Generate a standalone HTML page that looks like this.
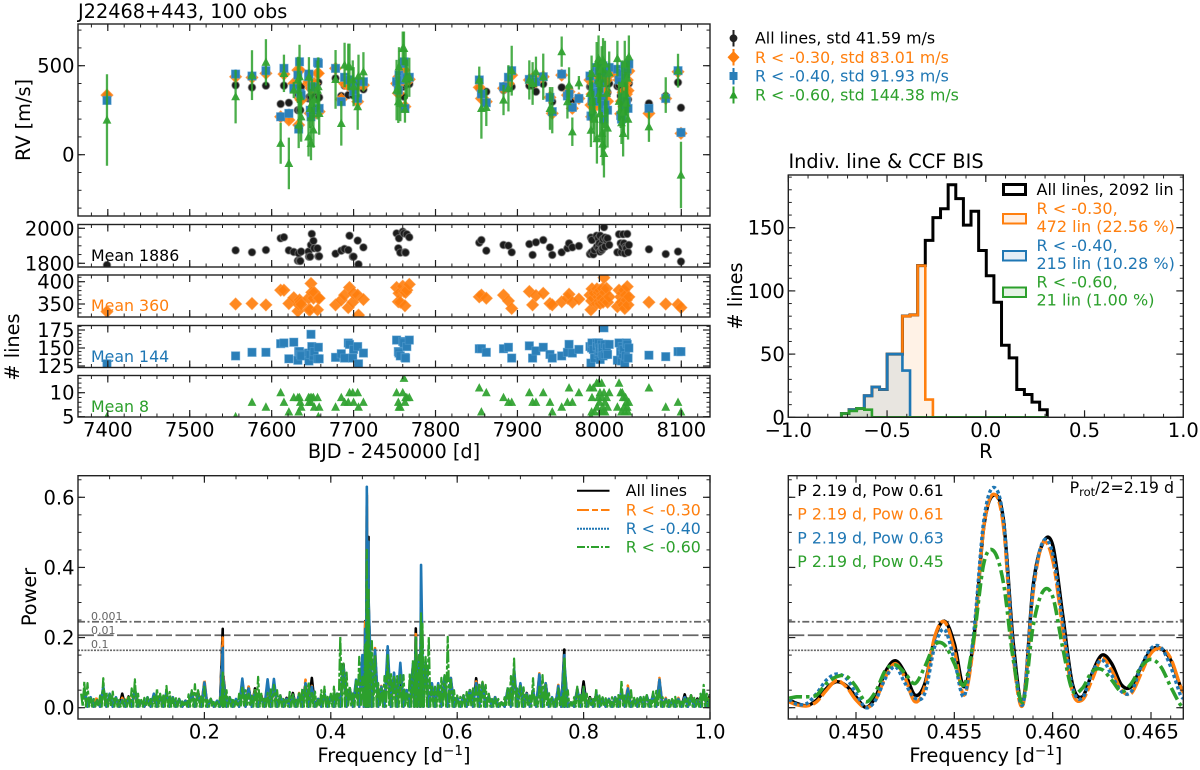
<!DOCTYPE html>
<html lang="en">
<head>
<meta charset="utf-8">
<title>J22468+443 RV and periodogram summary</title>
<style>
html,body{margin:0;padding:0;background:#fff;}
svg{display:block;font-family:"DejaVu Sans","Liberation Sans",sans-serif;filter:blur(.35px);}
text{fill:#000;}
</style>
</head>
<body>
<svg id="fig" xmlns="http://www.w3.org/2000/svg" width="1200" height="770" viewBox="0 0 1200 770">
<defs>
<clipPath id="c-rv"><rect x="78" y="24" width="632" height="192"/></clipPath>
<clipPath id="c-n1"><rect x="78" y="224.5" width="632" height="42.5"/></clipPath>
<clipPath id="c-n2"><rect x="78" y="275" width="632" height="42"/></clipPath>
<clipPath id="c-n3"><rect x="78" y="325.5" width="632" height="42"/></clipPath>
<clipPath id="c-n4"><rect x="78" y="375.5" width="632" height="41.5"/></clipPath>
<clipPath id="c-hist"><rect x="788.3" y="175" width="395" height="242.3"/></clipPath>
<clipPath id="c-pg"><rect x="78" y="475.7" width="632" height="243.3"/></clipPath>
<clipPath id="c-zoom"><rect x="788.3" y="475.7" width="395" height="243.3"/></clipPath>
</defs>

<text x="78" y="18" font-size="19.3">J22468+443, 100 obs</text>
<text x="0" y="0" font-size="19.3" text-anchor="middle" transform="translate(30,120) rotate(-90)">RV [m/s]</text>
<text x="0" y="0" font-size="19.3" text-anchor="middle" transform="translate(19,347) rotate(-90)"># lines</text>
<text x="394" y="458" font-size="19.3" text-anchor="middle">BJD - 2450000 [d]</text>

<text x="91" y="261" font-size="15.8" fill="#000">Mean 1886</text>
<text x="91" y="311" font-size="15.8" style="fill:#ff7f0e">Mean 360</text>
<text x="91" y="362" font-size="15.8" style="fill:#1f77b4">Mean 144</text>
<text x="91" y="412" font-size="15.8" style="fill:#2ca02c">Mean 8</text>

<g font-size="15.8">
<text x="755" y="43.5">All lines, std 41.59 m/s</text>
<text x="755" y="63" style="fill:#ff7f0e">R &lt; -0.30, std 83.01 m/s</text>
<text x="755" y="81.5" style="fill:#1f77b4">R &lt; -0.40, std 91.93 m/s</text>
<text x="755" y="100.5" style="fill:#2ca02c">R &lt; -0.60, std 144.38 m/s</text>
<line x1="733.5" x2="733.5" y1="30" y2="46.5" stroke="#222" stroke-width="2"/>
<circle cx="733.5" cy="38.3" r="3.9" fill="#222"/>
<line x1="733.5" x2="733.5" y1="49" y2="65.5" stroke="#ff7f0e" stroke-width="2"/>
<polygon points="733.5,51 739.5,57.3 733.5,63.5 727.5,57.3" fill="#ff7f0e"/>
<line x1="733.5" x2="733.5" y1="68" y2="84.5" stroke="#1f77b4" stroke-width="2"/>
<rect x="729.5" y="72" width="8" height="8" fill="#2b7fb8"/>
<line x1="733.5" x2="733.5" y1="86.5" y2="103.5" stroke="#2ca02c" stroke-width="2"/>
<polygon points="733.5,90.5 737.7,98.5 729.3,98.5" fill="#2ca02c"/>
</g>

<text x="788.5" y="168" font-size="19.3">Indiv. line &amp; CCF BIS</text>
<text x="0" y="0" font-size="19.3" text-anchor="middle" transform="translate(742,296) rotate(-90)"># lines</text>
<text x="985.8" y="458" font-size="19.3" text-anchor="middle">R</text>

<text x="0" y="0" font-size="19.3" text-anchor="middle" transform="translate(36,597) rotate(-90)">Power</text>
<text x="394" y="762" font-size="19.3" text-anchor="middle">Frequency [d<tspan dy="-7" font-size="13.5">−1</tspan><tspan dy="7">]</tspan></text>
<text x="985.8" y="762" font-size="19.3" text-anchor="middle">Frequency [d<tspan dy="-7" font-size="13.5">−1</tspan><tspan dy="7">]</tspan></text>

<g id="marks"></g>
<g id="axes"></g>

<g font-size="16">
<rect x="1003.5" y="184.5" width="22" height="10" fill="none" stroke="#000" stroke-width="3"/>
<rect x="1003" y="214" width="23" height="9.5" fill="rgba(255,127,14,.12)" stroke="#ff7f0e" stroke-width="2"/>
<rect x="1003" y="251" width="23" height="9.5" fill="rgba(31,119,180,.12)" stroke="#1f77b4" stroke-width="2"/>
<rect x="1003" y="287.5" width="23" height="9.5" fill="rgba(44,160,44,.12)" stroke="#2ca02c" stroke-width="2"/>
<text x="1036.5" y="195">All lines, 2092 lin</text>
<text x="1036.5" y="214" style="fill:#ff7f0e">R &lt; -0.30,</text>
<text x="1036.5" y="232" style="fill:#ff7f0e">472 lin (22.56 %)</text>
<text x="1036.5" y="251" style="fill:#1f77b4">R &lt; -0.40,</text>
<text x="1036.5" y="269" style="fill:#1f77b4">215 lin (10.28 %)</text>
<text x="1036.5" y="287.5" style="fill:#2ca02c">R &lt; -0.60,</text>
<text x="1036.5" y="305.5" style="fill:#2ca02c">21 lin (1.00 %)</text>
</g>

<g font-size="11" style="fill:#666">
<text x="91" y="620" style="fill:#666">0.001</text>
<text x="91" y="634" style="fill:#666">0.01</text>
<text x="91" y="648" style="fill:#666">0.1</text>
</g>

<g font-size="15.8">
<line x1="577" x2="609.5" y1="490.7" y2="490.7" stroke="#000" stroke-width="2"/>
<line x1="577" x2="609.5" y1="510" y2="510" stroke="#ff7f0e" stroke-width="2" stroke-dasharray="12 3 6 3"/>
<line x1="577" x2="609.5" y1="528.7" y2="528.7" stroke="#1f77b4" stroke-width="2" stroke-dasharray="2 1"/>
<line x1="577" x2="609.5" y1="547" y2="547" stroke="#2ca02c" stroke-width="2" stroke-dasharray="8 2 2 2"/>
<text x="625.7" y="496">All lines</text>
<text x="625.7" y="515.5" style="fill:#ff7f0e">R &lt; -0.30</text>
<text x="625.7" y="534" style="fill:#1f77b4">R &lt; -0.40</text>
<text x="625.7" y="552.5" style="fill:#2ca02c">R &lt; -0.60</text>
</g>

<g font-size="15.8">
<text x="797.3" y="496">P 2.19 d, Pow 0.61</text>
<text x="797.3" y="519.7" style="fill:#ff7f0e">P 2.19 d, Pow 0.61</text>
<text x="797.3" y="543.7" style="fill:#1f77b4">P 2.19 d, Pow 0.63</text>
<text x="797.3" y="567" style="fill:#2ca02c">P 2.19 d, Pow 0.45</text>
<text x="1174" y="493" font-size="15.8" text-anchor="end">P<tspan dy="3" font-size="11.5">rot</tspan><tspan dy="-3">/2=2.19 d</tspan></text>
</g>

<script>
// ---------- RV time series (top-left panels), one value per observation ----------
const bjd = [7399,7556,7576,7593,7611,7615,7621,7627,7632,7633,
7634,7635,7636,7645,7645.5,7647,7648,7649,7651,7652,
7656,7657,7658,7678,7685,7689,7693.5,7695,7699,7700,
7705,7706,7712,7752.5,7754.6,7755.4,7757,7760,7761.5,7762.7,
7763.5,7765,7768,7853.4,7856,7862,7883,7889,7893,7914.5,
7918.5,7922.6,7931.5,7939.7,7942.5,7954,7961,7963,7967,7975,
7988.5,7989.7,7990.5,7991,7992.6,7994,7996.7,7997,7998.7,7999,
8000,8000.7,8001,8002.8,8003,8004,8004.5,8005.6,8006.8,8007,
8008.8,8010,8012,8022,8024,8026,8027,8028,8029,8030,
8031,8032,8033,8034,8035,8036,8060.5,8081,8096,8099.6];
const rvAll = [335,390,378,388,285,388,292,382,250,335,
250,250,382,316,322,326,326,391,330,326,
316,406,322,429,330,388,335,378,335,367,
322,391,367,400,345,391,395,382,326,391,
400,397,397,373,345,354,363,373,382,388,
388,354,397,326,298,378,335,373,300,316,
382,382,300,330,380,300,380,300,350,420,
395,310,290,400,350,330,420,300,390,360,
340,350,400,385,390,330,350,370,290,320,
380,320,300,350,310,400,288,330,406,264];
const rvR30 = [335,438,434,457,213,453,195,400,475,167,
475,316,307,400,410,232,373,391,223,400,
457,457,242,485,311,400,391,386,378,378,
298,391,391,400,345,438,410,420,475,270,
423,420,423,378,316,298,373,400,447,420,
429,410,438,322,232,447,335,354,260,316,
420,279,213,340,400,330,470,280,350,430,
400,440,380,480,300,360,410,260,440,350,
420,300,450,450,420,230,300,440,350,270,
460,400,340,420,360,470,232,316,466,120];
const rvR40 = [305,453,442,472,213,485,232,373,447,144,
522,345,335,438,453,250,213,382,250,380,
519,513,260,485,298,435,420,420,382,354,
316,410,410,410,363,447,420,513,522,260,
435,430,435,420,341,292,382,435,472,423,
425,410,438,322,242,453,330,341,266,316,
442,217,217,300,380,350,490,300,400,470,
355,510,400,480,320,260,500,200,490,280,
460,250,490,480,420,220,200,460,320,260,
500,440,300,480,260,510,260,316,472,125];
const rvR60 = [195,326,447,519,64,457,-49,363,420,167,
438,326,213,100,438,260,64,288,139,307,
363,382,232,423,176,504,494,494,420,382,
270,442,466,363,298,494,288,597,597,255,
429,425,435,420,260,266,307,373,472,420,
400,466,438,260,250,579,298,391,129,404,
345,138,457,300,250,200,513,90,420,540,
345,401,230,480,120,60,530,7,510,170,
345,150,460,540,300,250,180,400,120,240,
510,345,290,430,200,550,157,335,472,-114];
const errR60 = [257,150,140,130,115,105,145,45,130,130,
180,130,140,110,110,110,95,130,100,100,
165,165,120,165,125,125,130,130,110,110,
130,120,110,170,120,110,100,95,95,75,
160,110,110,75,170,105,85,130,140,110,
120,85,130,120,130,85,95,100,80,38,
130,95,100,110,110,120,120,140,130,130,
120,130,150,130,120,120,125,135,130,140,
130,110,120,100,110,100,120,130,130,120,
130,120,110,125,115,120,85,100,95,187];
const errAllTypical = 9;
const errR30Typical = 20;
const errR40Typical = 26;

// ---------- number of lines per observation ----------
const nAll = [1790,1874,1863,1876,1943,1949,1874,1865,1815,1857,
1815,1813,1867,1867,1838,1838,1905,1968,1928,1886,
1886,1840,1840,1855,1872,1882,1876,1958,1838,1838,
1930,1794,1891,1971,1886,1943,1861,1981,1971,1863,
1861,1966,1949,1918,1933,1872,1905,1901,1863,1910,
1848,1920,1933,1891,1848,1863,1886,1914,1891,1899,
1853,1947,1863,1933,1851,1876,1958,1895,1943,1886,
1914,1867,1958,1905,1876,1886,1939,2006,1947,1895,
1933,1943,1905,1863,1966,1914,1863,1895,1966,1914,
1857,1895,1886,1968,1863,1905,1880,1853,1867,1810];
const nR30 = [333,350,351,348,381,381,351,364,334,349,
359,354,349,363,337,337,396,376,363,376,
337,363,363,348,359,370,342,387,354,374,
370,325,360,387,355,374,354,390,378,346,
376,381,394,366,370,363,370,357,340,378,
348,369,374,351,348,355,363,372,354,361,
370,337,357,384,363,374,351,384,366,376,
357,381,351,370,363,385,354,409,376,359,
385,354,366,344,381,366,354,374,348,381,
340,370,359,389,348,366,354,350,349,342];
const nR40 = [128,139,144,144,156,157,135,158,133,145,
145,141,139,143,132,141,169,152,139,145,
135,151,135,137,142,136,157,155,136,148,
152,128,143,161,145,143,139,159,157,137,
136,152,161,149,149,144,149,151,136,153,
136,146,151,141,136,139,144,155,143,148,
152,129,150,157,148,136,157,152,141,157,
145,150,134,155,143,150,139,178,155,141,
150,141,155,133,157,145,132,152,141,148,
129,139,157,155,136,150,140,138,145,145];
const nR60 = [5,5,8,7,10,8,6,9,9,6,
9,8,7,9,8,9,8,9,9,7,
9,5,7,7,9,8,8,10,10,8,
10,7,8,10,8,7,7,10,13,8,
9,9,9,11,6,10,9,8,8,10,
8,8,10,8,6,7,8,11,8,10,
11,5,6,9,11,6,12,7,9,12,
8,10,6,12,9,7,6,10,8,6,
9,7,10,7,12,10,6,10,9,7,
6,9,8,7,6,8,11,7,8,6];

// ---------- histogram of R ----------
const histStart = -0.731;
const histBinWidth = 0.0386;
const histAll = [3,6,7,17,24,22,50,50,80,81,120,140,158,165,184,173,152,163,132,112,91,57,47,22,18,12,6];
const histR30 = [3,6,7,17,24,22,50,50,80,81,120,14,0,0,0,0,0,0,0,0,0,0,0,0,0,0,0];
const histR40 = [3,6,7,17,24,22,50,50,37,0,0,0,0,0,0,0,0,0,0,0,0,0,0,0,0,0,0];
const histR60 = [3,5,7,6,0,0,0,0,0,0,0,0,0,0,0,0,0,0,0,0,0,0,0,0,0,0,0];

// ---------- periodogram envelope values, power x 1000 ----------
const pgFineStep = 0.005;
const pgCoarseStep = 0.01;
const pgR60 = [40,74,70,30,25,22,35,84,45,38,
46,32,22,20,28,35,55,81,40,22,
28,30,25,32,55,40,35,62,45,28,
27,25,18,20,38,50,67,50,32,60,
22,26,20,17,30,74,50,30,27,20,
40,60,50,40,34,55,88,40,30,42,
52,65,50,38,25,22,45,38,22,46,
55,65,74,46,46,22,50,60,31,40,
60,40,202,126,100,60,41,80,145,88,
180,260,190,150,70,55,90,150,100,93,
90,93,93,41,98,136,190,150,240,145,
202,60,60,69,85,93,202,80,50,35,
31,36,45,50,55,60,70,74,65,40,
25,27,25,15,30,60,90,140,55,62,
58,40,35,84,30,60,93,65,45,28,
25,55,30,140,50,15,30,60,36,60,
40,28,25,55,35,30,27,25,30,28,
36,77,35,40,50,28,27,30,31,36,
22,46,48,50,30,25,22,25,31,25,
22,25,27,36,28,22,40,65,40,36];
const pgR40 = [55,30,20,60,40,30,22,28,55,20,
30,40,35,45,30,25,20,45,40,72,
25,20,80,30,25,83,55,45,30,81,
82,35,25,35,40,70,60,25,40,35,
40,120,55,80,150,300,165,60,175,100,
128,50,125,150,130,70,70,90,85,30,
35,50,70,70,35,30,15,55,110,70,
40,50,95,70,30,62,120,15,55,55,
25,40,28,25,30,50,55,25,30,35,
40,80,25,22,25,30,30,22,50,25];
const pgR30 = [50,28,30,55,38,28,28,35,50,20,
28,38,35,40,30,25,20,45,42,80,
25,18,85,30,22,70,60,50,32,70,
72,35,25,35,42,80,62,25,40,35,
38,115,55,75,140,290,170,62,150,95,
100,50,120,150,125,68,68,85,85,30,
35,50,75,72,35,30,15,52,105,68,
40,48,98,70,28,65,115,15,55,55,
25,40,28,25,30,48,63,25,28,35,
38,85,28,25,28,30,32,22,48,28];
const pgAll = [45,25,22,50,35,28,40,32,48,18,
25,36,32,42,28,24,20,42,45,70,
22,18,90,28,22,75,60,55,35,62,
70,32,28,42,38,68,85,25,38,35,
40,125,55,70,135,280,150,60,140,90,
95,50,120,150,120,60,65,85,80,28,
32,50,84,70,32,30,15,50,100,65,
42,46,90,68,28,55,110,15,50,75,
30,38,26,25,28,45,50,24,28,32,
36,70,25,22,25,38,35,26,42,38];
const pgPeakFreq = [0.229,0.4545,0.457,0.4597,0.5345,0.5428,0.7695];
const pgPeakAll = [225,247,606,487,226,300,166];
const pgPeakR30 = [200,245,612,470,210,335,145];
const pgPeakR40 = [170,225,630,473,200,407,150];
const pgPeakR60 = [100,180,450,340,200,269,140];
const pgFloor = 3;

// ---------- false-alarm levels ----------
const faLevels = [0.245,0.2065,0.1637];

// ---------- zoomed periodogram, power x 1000 ----------
const zoomFreq = [0.4466,0.4470,0.4475,0.4480,0.4485,0.4490,0.4495,0.4500,0.4505,0.4510,0.4515,0.4520,0.4525,0.4530,0.4535,0.4540,0.4545,0.4550,0.4555,0.4560,0.4565,0.4570,0.4575,0.4580,0.4585,0.4590,0.4595,0.4600,0.4605,0.4610,0.4615,0.4620,0.4625,0.4630,0.4635,0.4640,0.4645,0.4650,0.4655,0.4660,0.4665,0.4667];
const zoomAll = [22,12,6,22,55,74,63,31,1,31,103,134,98,36,69,198,247,183,60,202,516,606,535,183,17,345,469,464,269,69,31,98,150,126,65,60,117,164,169,136,60,43];
const zoomR30 = [17,8,5,17,50,77,60,22,0,22,88,126,84,17,60,202,245,164,36,193,516,609,516,145,10,326,469,421,231,46,22,79,141,107,50,41,98,155,169,141,60,41];
const zoomR40 = [24,10,12,41,79,96,84,41,0,22,84,117,69,27,41,174,223,136,33,221,535,628,535,164,12,336,473,440,250,60,27,98,136,93,46,46,117,169,172,117,36,29];
const zoomR60 = [27,31,31,36,69,88,90,60,17,46,107,122,98,69,117,179,179,126,65,202,412,447,355,136,17,231,331,317,174,50,55,103,109,79,46,69,117,138,117,60,8,5];

// ---------- tick arrays ----------
const bjdTicks = [7400,7500,7600,7700,7800,7900,8000,8100];
const rvTicks = [0,500];
const n1Ticks = [1800,2000];
const n2Ticks = [350,400];
const n3Ticks = [125,150,175];
const n4Ticks = [5,10];
const histXTicks = [-1,-0.5,0,0.5,1];
const histYTicks = [0,50,100,150];
const pgXTicks = [0.2,0.4,0.6,0.8,1.0];
const pgYTicks = [0,0.2,0.4,0.6];
const zoomXTicks = [0.45,0.455,0.46,0.465];

const NS = 'http://www.w3.org/2000/svg';
const marks = document.getElementById('marks');
const axes = document.getElementById('axes');
const COL = {all:'#000000', r30:'#ff7f0e', r40:'#1f77b4', r60:'#2ca02c'};
const TICK_FONT = 19.5;

function mk(tag, attrs, parent){
  const e = document.createElementNS(NS, tag);
  for (const k in attrs) e.setAttribute(k, attrs[k]);
  parent.appendChild(e);
  return e;
}
function linear(d0, d1, r0, r1){
  return v => r0 + (v - d0) * (r1 - r0) / (d1 - d0);
}
function range(from, to, step){
  const out = [];
  const n = Math.round((to - from) / step);
  for (let i = 0; i <= n; i++) out.push(from + i * step);
  return out;
}

// scales
const xBjd = linear(7400, 8100, 107.8, 681.3);
const yRv = linear(0, 500, 154.7, 65.7);
const yN1 = linear(1800, 2000, 263.3, 228.3);
const yN2 = linear(350, 400, 304, 281.7);
const yN3 = linear(125, 175, 366, 330);
const yN4 = linear(5, 10, 416.7, 392.7);
const xHist = linear(-1, 1, 788.3, 1183.3);
const yHist = linear(0, 150, 417.3, 227.7);
const xPg = linear(0, 1, 78, 710);
const yPow = linear(0, 0.6, 707.7, 497.3);
const xZoom = linear(0.45, 0.465, 856, 1151);

function drawAxis(o){
  const g = mk('g', {}, axes);
  
  
  const tick = (x1,y1,x2,y2,w) => {
    const t = mk('line', {x1:x1,y1:y1,x2:x2,y2:y2,stroke:'#222','stroke-width':w}, g);
    
    
  };
  range(o.x.minorFrom, o.x.minorTo, o.x.minorStep).forEach(v => {
    const p = o.x.fn(v);
    if (p < o.l || p > o.r) return;
    tick(p, o.b, p, o.b - 3.5, 1);
    tick(p, o.t, p, o.t + 3.5, 1);
  });
  range(o.y.minorFrom, o.y.minorTo, o.y.minorStep).forEach(v => {
    const p = o.y.fn(v);
    if (p < o.t || p > o.b) return;
    tick(o.l, p, o.l + 3.5, p, 1);
    tick(o.r, p, o.r - 3.5, p, 1);
  });
  o.x.ticks.forEach(v => {
    const p = o.x.fn(v);
    tick(p, o.b, p, o.b - 7, 1.2);
    tick(p, o.t, p, o.t + 7, 1.2);
    if (o.x.labels) {
      const s = mk('text', {x:p, y:o.b + 19.5, 'font-size':TICK_FONT, 'text-anchor':'middle'}, g);
      s.textContent = o.x.labels(v);
      
      
    }
  });
  o.y.ticks.forEach(v => {
    const p = o.y.fn(v);
    tick(o.l, p, o.l + 7, p, 1.2);
    tick(o.r, p, o.r - 7, p, 1.2);
    if (o.y.labels) {
      const s = mk('text', {x:o.l - 3.5, y:p + 7, 'font-size':TICK_FONT, 'text-anchor':'end'}, g);
      s.textContent = o.y.labels(v);
      
      
    }
  });
  const f = mk('rect', {x:o.l, y:o.t, width:o.r - o.l, height:o.b - o.t, fill:'none', stroke:'#222', 'stroke-width':1.4}, g);
  
  
}

const bjdMinor = {minorFrom:7380, minorTo:8140, minorStep:20, fn:xBjd, ticks:bjdTicks};
drawAxis({name:'rv', l:78,r:710,t:24,b:216,
  x:Object.assign({}, bjdMinor),
  y:{fn:yRv, ticks:rvTicks, minorFrom:-300, minorTo:700, minorStep:100, labels:v=>String(v)}});
drawAxis({name:'lines-all', l:78,r:710,t:224.5,b:267,
  x:Object.assign({}, bjdMinor),
  y:{fn:yN1, ticks:n1Ticks, minorFrom:1800, minorTo:2000, minorStep:50, labels:v=>String(v)}});
drawAxis({name:'lines-r30', l:78,r:710,t:275,b:317,
  x:Object.assign({}, bjdMinor),
  y:{fn:yN2, ticks:n2Ticks, minorFrom:330, minorTo:410, minorStep:10, labels:v=>String(v)}});
drawAxis({name:'lines-r40', l:78,r:710,t:325.5,b:367.5,
  x:Object.assign({}, bjdMinor),
  y:{fn:yN3, ticks:n3Ticks, minorFrom:125, minorTo:180, minorStep:5, labels:v=>String(v)}});
drawAxis({name:'lines-r60', l:78,r:710,t:375.5,b:417,
  x:Object.assign({labels:v=>String(v)}, bjdMinor),
  y:{fn:yN4, ticks:n4Ticks, minorFrom:5, minorTo:13, minorStep:1, labels:v=>String(v)}});
drawAxis({name:'hist', l:788.3,r:1183.3,t:175,b:417.3,
  x:{fn:xHist, ticks:histXTicks, minorFrom:-1, minorTo:1, minorStep:0.1, labels:v=>v===0?'0.0':(v<0?'−':'')+Math.abs(v).toFixed(1)},
  y:{fn:yHist, ticks:histYTicks, minorFrom:0, minorTo:190, minorStep:10, labels:v=>String(v)}});
drawAxis({name:'periodogram', l:78,r:710,t:475.7,b:719,
  x:{fn:xPg, ticks:pgXTicks, minorFrom:0, minorTo:1, minorStep:0.05, labels:v=>v.toFixed(1)},
  y:{fn:yPow, ticks:pgYTicks, minorFrom:0, minorTo:0.65, minorStep:0.05, labels:v=>v.toFixed(1)}});
drawAxis({name:'zoom-periodogram', l:788.3,r:1183.3,t:475.7,b:719,
  x:{fn:xZoom, ticks:zoomXTicks, minorFrom:0.447, minorTo:0.466, minorStep:0.001, labels:v=>v.toFixed(3)},
  y:{fn:yPow, ticks:pgYTicks, minorFrom:0, minorTo:0.65, minorStep:0.05}});

// marker drawing
function marker(kind, g, x, y){
  let e;
  if (kind === 'all') {
    e = mk('circle', {cx:x, cy:y, r:3.8, fill:'#1c1c1c', stroke:'rgba(130,130,130,.55)', 'stroke-width':1.2}, g);
  } else if (kind === 'r30') {
    e = mk('polygon', {points:[x,y-6.2,x+6.2,y,x,y+6.2,x-6.2,y].join(' '), fill:COL.r30, 'fill-opacity':.92, stroke:'rgba(255,150,60,.6)', 'stroke-width':.8}, g);
  } else if (kind === 'r40') {
    e = mk('rect', {x:x-4.2, y:y-4.2, width:8.4, height:8.4, fill:'#2b7fb8', stroke:'rgba(90,160,210,.6)', 'stroke-width':.8}, g);
  } else {
    e = mk('polygon', {points:[x,y-4.8,x+4.4,y+3.6,x-4.4,y+3.6].join(' '), fill:'#33a333', 'fill-opacity':.95}, g);
  }
  return e;
}

// RV panel
const rvPanel = mk('g', {'clip-path':'url(#c-rv)'}, marks);


[['all',rvAll,null,errAllTypical],['r30',rvR30,null,errR30Typical],['r40',rvR40,null,errR40Typical],['r60',rvR60,errR60,0]].forEach(([k,vals,errs,typ]) => {
  const g = mk('g', {}, rvPanel);
  
  
  vals.forEach((v,i) => {
    const e = errs ? errs[i] : typ;
    const x = xBjd(bjd[i]);
    const bar = mk('line', {x1:x, x2:x, y1:yRv(v-e), y2:yRv(v+e), stroke:k==='all'?'#222':COL[k], 'stroke-width':2.3, 'stroke-opacity':.85}, g);
    
    
    const p = marker(k, g, x, yRv(v));
    
    
  });
});

// line-count panels
[['all',nAll,yN1,'c-n1'],['r30',nR30,yN2,'c-n2'],['r40',nR40,yN3,'c-n3'],['r60',nR60,yN4,'c-n4']].forEach(([k,vals,sc,clip]) => {
  const g = mk('g', {'clip-path':'url(#' + clip + ')'}, marks);
  
  
  vals.forEach((v,i) => {
    const p = marker(k, g, xBjd(bjd[i]), sc(v));
    
    
  });
});

// histogram
function histPath(counts){
  let d = 'M' + xHist(histStart) + ' ' + yHist(0);
  counts.forEach((c,i) => {
    const a = xHist(histStart + i * histBinWidth);
    const b = xHist(histStart + (i + 1) * histBinWidth);
    d += ' L' + a + ' ' + yHist(c) + ' L' + b + ' ' + yHist(c);
  });
  d += ' L' + xHist(histStart + counts.length * histBinWidth) + ' ' + yHist(0);
  return d;
}
const histG = mk('g', {'clip-path':'url(#c-hist)'}, marks);


[['all',histAll,'none',3],['r30',histR30,'rgba(255,127,14,.1)',2.6],['r40',histR40,'rgba(31,119,180,.1)',2.6],['r60',histR60,'rgba(44,160,44,.1)',2.6]].forEach(([k,c,f,w]) => {
  const p = mk('path', {d:histPath(c), fill:f, stroke:COL[k], 'stroke-width':w, 'stroke-linejoin':'miter'}, histG);
  
  
});

// false-alarm lines
const faStyles = ['7 2.5 2 2.5','16 3.5','2 1.2'];
[[78,710,'periodogram'],[788.3,1183.3,'zoom']].forEach(([a,b,n]) => {
  faLevels.forEach((lv,i) => {
    const l = mk('line', {x1:a, x2:b, y1:yPow(lv), y2:yPow(lv), stroke:'#666', 'stroke-width':i===2?1.6:1.8, 'stroke-dasharray':faStyles[i]}, marks);
    
    
  });
});

// periodogram
function pgPoints(grid, step, peakVals){
  const pts = grid.map((v,i) => [(i + 1) * step, v]);
  pgPeakFreq.forEach((f,i) => pts.push([f, peakVals[i]]));
  pts.sort((p,q) => p[0] - q[0]);
  return pts;
}
function pgPath(pts){
  let d = '';
  pts.forEach((p,i) => {
    const x = xPg(p[0]);
    const y = yPow(p[1] / 1000);
    d += (i ? ' L' : 'M') + x.toFixed(2) + ' ' + y.toFixed(2);
    if (i < pts.length - 1) {
      const mid = xPg((p[0] + pts[i + 1][0]) / 2);
      d += ' L' + mid.toFixed(2) + ' ' + yPow(pgFloor / 1000).toFixed(2);
    }
  });
  return d;
}
const pgG = mk('g', {'clip-path':'url(#c-pg)'}, marks);


[['all',pgAll,pgCoarseStep,pgPeakAll,'none',2.6],
 ['r30',pgR30,pgCoarseStep,pgPeakR30,'12 3 6 3',2.6],
 ['r40',pgR40,pgCoarseStep,pgPeakR40,'none',2.6],
 ['r60',pgR60,pgFineStep,pgPeakR60,'12 2 4 2',2.2]].forEach(([k,g,s,pk,dash,w]) => {
  const p = mk('path', {d:pgPath(pgPoints(g,s,pk)), fill:'none', stroke:COL[k], 'stroke-width':w, 'stroke-dasharray':dash, 'stroke-linejoin':'round'}, pgG);
  
  
});

// zoomed periodogram: smooth curve through the read values
function smoothPath(xs, ys){
  const X = xs.map(xZoom);
  const Y = ys.map(v => yPow(v / 1000));
  let d = 'M' + X[0].toFixed(2) + ' ' + Y[0].toFixed(2);
  for (let i = 0; i < X.length - 1; i++) {
    const a = Math.max(i - 1, 0), b = Math.min(i + 2, X.length - 1);
    const c1x = X[i] + (X[i + 1] - X[a]) / 6, c1y = Y[i] + (Y[i + 1] - Y[a]) / 6;
    const c2x = X[i + 1] - (X[b] - X[i]) / 6, c2y = Y[i + 1] - (Y[b] - Y[i]) / 6;
    d += ' C' + c1x.toFixed(2) + ' ' + c1y.toFixed(2) + ' ' + c2x.toFixed(2) + ' ' + c2y.toFixed(2) + ' ' + X[i + 1].toFixed(2) + ' ' + Y[i + 1].toFixed(2);
  }
  return d;
}
const zoomG = mk('g', {'clip-path':'url(#c-zoom)'}, marks);


[['all',zoomAll,'none',3.4],['r30',zoomR30,'22 3 9 3',3.4],['r40',zoomR40,'3.4 2.6',3.4],['r60',zoomR60,'13 4 3.5 4',3.6]].forEach(([k,v,dash,w]) => {
  const p = mk('path', {d:smoothPath(zoomFreq,v), fill:'none', stroke:COL[k], 'stroke-width':w, 'stroke-dasharray':dash}, zoomG);
  
  
});
</script>
</svg>
</body>
</html>
